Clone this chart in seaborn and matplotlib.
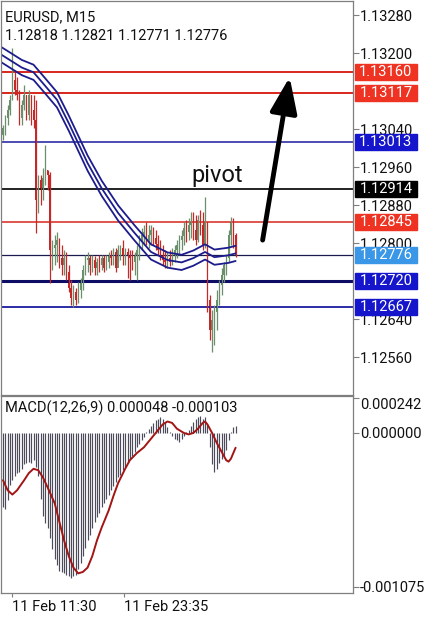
import numpy as np
import matplotlib
matplotlib.use("Agg")
import matplotlib.pyplot as plt
from matplotlib.patches import Rectangle
from matplotlib.transforms import blended_transform_factory
import seaborn as sns

# EURUSD M15 candles (open = previous close)
first_open = 1.13028
high = [1.13049, 1.13070, 1.13091, 1.13112, 1.13211, 1.13165, 1.13150, 1.13123, 1.13102, 1.13133,
        1.13112, 1.13123, 1.13112, 1.13112, 1.13102, 1.12944, 1.12944, 1.12958, 1.13007, 1.12954,
        1.12950, 1.12807, 1.12817, 1.12824, 1.12811, 1.12796, 1.12786, 1.12782, 1.12754, 1.12723,
        1.12712, 1.12706, 1.12718, 1.12727, 1.12754, 1.12775, 1.12782, 1.12775, 1.12775, 1.12773,
        1.12769, 1.12775, 1.12775, 1.12775, 1.12775, 1.12782, 1.12786, 1.12790, 1.12790, 1.12796,
        1.12796, 1.12807, 1.12790, 1.12790, 1.12786, 1.12786, 1.12782, 1.12796, 1.12817, 1.12832,
        1.12838, 1.12845, 1.12838, 1.12838, 1.12834, 1.12828, 1.12817, 1.12807, 1.12796, 1.12786,
        1.12782, 1.12786, 1.12790, 1.12796, 1.12807, 1.12817, 1.12828, 1.12845, 1.12849, 1.12853,
        1.12866, 1.12866, 1.12859, 1.12859, 1.12870, 1.12866, 1.12897, 1.12845, 1.12691, 1.12659,
        1.12670, 1.12702, 1.12723, 1.12748, 1.12760, 1.12775, 1.12828, 1.12855, 1.12853, 1.12821]
low = [1.13017, 1.13028, 1.13049, 1.13070, 1.13102, 1.13112, 1.13102, 1.13049, 1.13049, 1.13080,
       1.13059, 1.13059, 1.13049, 1.13043, 1.12822, 1.12864, 1.12880, 1.12891, 1.12923, 1.12912,
       1.12716, 1.12744, 1.12754, 1.12760, 1.12748, 1.12733, 1.12733, 1.12723, 1.12697, 1.12670,
       1.12666, 1.12670, 1.12675, 1.12685, 1.12702, 1.12733, 1.12739, 1.12733, 1.12739, 1.12733,
       1.12733, 1.12739, 1.12744, 1.12739, 1.12744, 1.12748, 1.12754, 1.12754, 1.12739, 1.12760,
       1.12765, 1.12754, 1.12754, 1.12727, 1.12723, 1.12744, 1.12733, 1.12723, 1.12765, 1.12786,
       1.12796, 1.12796, 1.12790, 1.12796, 1.12796, 1.12786, 1.12775, 1.12765, 1.12754, 1.12748,
       1.12748, 1.12752, 1.12754, 1.12760, 1.12769, 1.12775, 1.12786, 1.12796, 1.12803, 1.12807,
       1.12811, 1.12807, 1.12796, 1.12803, 1.12817, 1.12786, 1.12790, 1.12655, 1.12596, 1.12571,
       1.12586, 1.12617, 1.12670, 1.12691, 1.12718, 1.12733, 1.12760, 1.12796, 1.12790, 1.12771]
close = [1.13043, 1.13064, 1.13080, 1.13102, 1.13144, 1.13123, 1.13112, 1.13064, 1.13091, 1.13112,
         1.13070, 1.13112, 1.13080, 1.13059, 1.12891, 1.12933, 1.12912, 1.12937, 1.12954, 1.12944,
         1.12786, 1.12790, 1.12796, 1.12807, 1.12769, 1.12754, 1.12769, 1.12739, 1.12706, 1.12685,
         1.12697, 1.12681, 1.12702, 1.12716, 1.12744, 1.12765, 1.12769, 1.12754, 1.12765, 1.12748,
         1.12760, 1.12754, 1.12769, 1.12748, 1.12760, 1.12773, 1.12769, 1.12782, 1.12748, 1.12786,
         1.12790, 1.12775, 1.12782, 1.12775, 1.12769, 1.12760, 1.12773, 1.12786, 1.12807, 1.12817,
         1.12824, 1.12807, 1.12817, 1.12828, 1.12811, 1.12798, 1.12786, 1.12775, 1.12765, 1.12760,
         1.12769, 1.12760, 1.12775, 1.12786, 1.12796, 1.12807, 1.12815, 1.12832, 1.12824, 1.12838,
         1.12845, 1.12828, 1.12807, 1.12849, 1.12838, 1.12796, 1.12845, 1.12681, 1.12617, 1.12638,
         1.12655, 1.12681, 1.12712, 1.12733, 1.12754, 1.12769, 1.12817, 1.12845, 1.12818, 1.12776]

# moving average envelope (middle line, offset)
band_idx = [-1, 8, 13, 17, 23, 28, 32, 36, 42, 49, 56, 63, 70, 76, 81, 86, 90, 96, 99]
band_mid = [1.13198, 1.13170, 1.13160, 1.13137, 1.13102, 1.13053, 1.13011, 1.12969, 1.12916, 1.12864,
            1.12822, 1.12782, 1.12765, 1.12760, 1.12769, 1.12782, 1.12771, 1.12775, 1.12779]
band_env = 0.00016

# MACD histogram and signal line
macd_hist = [-0.00052, -0.00053, -0.00047, -0.00036, -0.00033, -0.00030, -0.00028, -0.00027, -0.00025, -0.00022,
             -0.00021, -0.00020, -0.00021, -0.00019, -0.00024, -0.00030, -0.00046, -0.00058, -0.00063, -0.00066,
             -0.00073, -0.00081, -0.00088, -0.00092, -0.00096, -0.00097, -0.00098, -0.00099, -0.00100, -0.00101,
             -0.00100, -0.00099, -0.00095, -0.00091, -0.00086, -0.00080, -0.00075, -0.00071, -0.00066, -0.00062,
             -0.00059, -0.00056, -0.00052, -0.00049, -0.00046, -0.00043, -0.00040, -0.00037, -0.00034, -0.00031,
             -0.00029, -0.00026, -0.00024, -0.00021, -0.00018, -0.00016, -0.00013, -0.00010, -0.00008, -0.00005,
             -0.00003, 0.00001, 0.00003, 0.00005, 0.00007, 0.00009, 0.00010, 0.00011, 0.00010, 0.00008,
             0.00004, 0.00001, -0.00002, -0.00004, -0.00005, -0.00006, -0.00004, -0.00002, 0.00001, 0.00002,
             0.00005, 0.00008, 0.00010, 0.00011, 0.00012, 0.00010, 0.00011, 0.00006, -0.00010, -0.00022,
             -0.00027, -0.00025, -0.00021, -0.00018, -0.00016, -0.00012, -0.00005, 0.00001, 0.00004, 0.000048]
sig_idx = [0, 2, 4, 6, 9, 11, 13, 15, 17, 19, 22, 24, 26, 28, 30, 32, 34, 36, 38, 40,
           42, 45, 47, 49, 52, 54, 57, 60, 63, 66, 68, 70, 72, 74, 77, 79, 81, 83, 85, 86,
           87, 89, 91, 93, 95, 96, 97, 99]
sig_val = [-0.00033, -0.00040, -0.00043, -0.00040, -0.00033, -0.00028, -0.00025, -0.00026, -0.00031, -0.00038,
           -0.00049, -0.00062, -0.00075, -0.00086, -0.00094, -0.00098, -0.00097, -0.00094, -0.00086, -0.00075,
           -0.00066, -0.00054, -0.00044, -0.00035, -0.00025, -0.00019, -0.00014, -0.00010, -0.00004, 0.00002,
           0.00006, 0.00008, 0.00007, 0.00003, 0.00000, -0.00001, 0.00000, 0.00003, 0.00007, 0.00008,
           0.00006, 0.00000, -0.00007, -0.00013, -0.00019, -0.00020, -0.00018, -0.000103]

# horizontal levels
levels = [1.13160, 1.13117, 1.13013, 1.12914, 1.12845, 1.12776, 1.12720, 1.12667]
level_colors = ['#d8261c', '#d8261c', '#1b1b9e', '#111111', '#d8261c', '#1a1a50', '#0d0d66', '#1b1b9e']
level_widths = [1.4, 1.4, 1.1, 1.3, 1.1, 0.9, 2.2, 1.3]
box_colors = ['#ee3322', '#ee3322', '#1515cc', '#000000', '#ee3322', '#3a97e8', '#1515cc', '#1515cc']

price_ticks = [1.13280, 1.13200, 1.13040, 1.12960, 1.12880, 1.12800, 1.12640, 1.12560]
macd_ticks = [0.000242, 0.0, -0.001075]
time_ticks = [4, 51.5]
time_labels = ['11 Feb 11:30', '11 Feb 23:35']

sns.set_theme(style="white")
plt.rcParams['font.family'] = ['Roboto', 'DejaVu Sans']
FS = 10.5
UP = '#6b8e6b'
DOWN = '#c62828'
NAVY = '#1c1c8c'
GRID = '#7f7f7f'

close = np.array(close)
opens = np.r_[first_open, close[:-1]]
idx = np.arange(len(close))
cols = np.where(close >= opens, UP, DOWN)

fig = plt.figure(figsize=(4.26, 6.25), dpi=100)
ax = fig.add_axes([0.0023, 0.368, 0.826, 0.6304])
ax2 = fig.add_axes([0.0023, 0.0512, 0.826, 0.3152])

# candles
ax.vlines(idx, low, high, colors=cols, lw=0.9)
body = np.where(np.abs(close - opens) < 0.00002, 0.00002, close - opens)
ax.bar(idx, body, bottom=opens, width=0.55, color=cols, linewidth=0)

# envelope
mid = np.array(band_mid)
for off in (-band_env, 0, band_env):
    sns.lineplot(x=band_idx, y=mid + off, ax=ax, color=NAVY, lw=1.3)

for lvl, c, w in zip(levels, level_colors, level_widths):
    ax.axhline(lvl, color=c, lw=w, zorder=1.5)

ax.set_xlim(-0.85, 148.9)
ax.set_ylim(1.12481, 1.13310)
ax.set_xticks([])
ax.yaxis.tick_right()
ax.set_yticks(price_ticks)
ax.set_yticklabels([f"{t:.5f}" for t in price_ticks])
ax.tick_params(axis='y', direction='out', length=4, width=0.8, color=GRID,
               labelsize=FS, pad=1, right=True, labelcolor='#111111')

# price labels on the axis
trans = blended_transform_factory(ax.transAxes, ax.transData)
bh = 0.000337
for lvl, bc in zip(levels, box_colors):
    ax.add_patch(Rectangle((1.006, lvl - bh / 2), 0.176, bh, transform=trans,
                           color=bc, clip_on=False, zorder=5))
    ax.text(1.094, lvl, f"{lvl:.5f}", transform=trans, ha='center', va='center',
            color='white', fontsize=FS, zorder=6, clip_on=False)

ax.text(0.011, 0.959, "EURUSD, M15", transform=ax.transAxes, fontsize=FS,
        va='center', ha='left', color='#111111')
ax.text(0.011, 0.911, "1.12818 1.12821 1.12771 1.12776", transform=ax.transAxes,
        fontsize=FS, va='center', ha='left', color='#111111')

ax.text(80, 1.12929, "pivot", fontsize=17, ha='left', va='baseline', color='#111111')
ax.annotate('', xy=(122, 1.13150), xytext=(110.5, 1.12807),
            arrowprops=dict(arrowstyle='-|>,head_length=1.45,head_width=0.55',
                            lw=3.5, color='black', mutation_scale=15,
                            shrinkA=0, shrinkB=0))

# MACD panel
ax2.vlines(idx, 0, macd_hist, colors='#4b4b5c', lw=0.85)
sns.lineplot(x=sig_idx, y=sig_val, ax=ax2, color='#a31515', lw=1.4)
ax2.set_xlim(-0.85, 148.9)
ax2.set_ylim(-0.001117, 0.000258)
ax2.yaxis.tick_right()
ax2.set_yticks(macd_ticks)
ax2.set_yticklabels([f"{t:.6f}" for t in macd_ticks])
ax2.get_yticklabels()[0].set_va('top')
ax2.tick_params(axis='y', direction='out', length=4, width=0.8, color=GRID,
                labelsize=FS, pad=1, right=True, labelcolor='#111111')
ax2.set_xticks(time_ticks)
ax2.set_xticklabels(time_labels, ha='left')
ax2.tick_params(axis='x', direction='out', length=3, width=0.8, color=GRID,
                labelsize=FS, pad=2, bottom=True, labelcolor='#111111')
ax2.text(0.011, 0.939, "MACD(12,26,9) 0.000048 -0.000103", transform=ax2.transAxes,
         fontsize=FS, va='center', ha='left', color='#111111')

for a in (ax, ax2):
    a.set_xlabel('')
    a.set_ylabel('')
    for s in a.spines.values():
        s.set_color(GRID)
        s.set_linewidth(0.9)

fig.savefig("out.png", dpi=100, facecolor='white')
